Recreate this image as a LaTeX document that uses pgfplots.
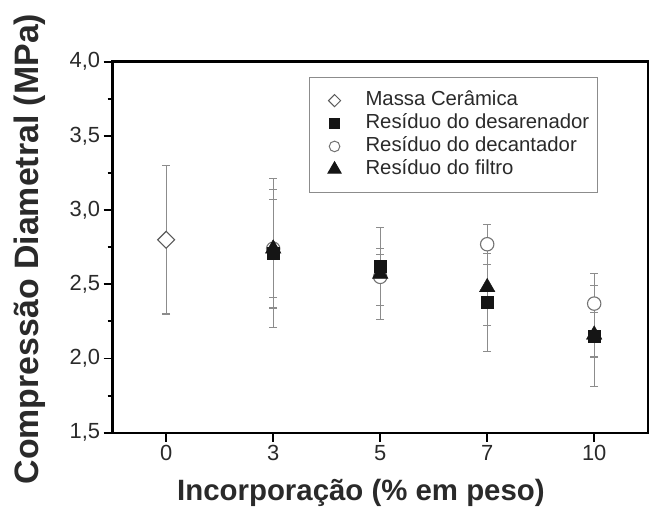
\documentclass[border=0pt]{standalone}
\usepackage{pgfplots}
\pgfplotsset{compat=1.18}
\usepackage{pgfplotstable}
\usepackage{fontspec}
\setmainfont{Liberation Sans}
\definecolor{errgray}{HTML}{8C8C8C}
\definecolor{mkblack}{HTML}{151515}
\definecolor{txt}{HTML}{2A2A2A}

\pgfplotstableread{
x y e
0 2.80 0.50
}\massa
\pgfplotstableread{
x y e
1 2.71 0.50
2 2.62 0.08
3 2.38 0.33
4 2.15 0.34
}\desar
\pgfplotstableread{
x y e
1 2.74 0.33
2 2.55 0.19
3 2.77 0.135
4 2.37 0.20
}\decant
\pgfplotstableread{
x y e
1 2.74 0.40
2 2.57 0.31
3 2.48 0.26
4 2.16 0.15
}\filtro

\begin{document}
\begin{tikzpicture}
\path[use as bounding box] (-112.7bp,-85.3bp) rectangle (540.3bp,432.7bp);
\begin{axis}[
  scale only axis, width=535bp, height=371bp,
  at={(0,0)}, anchor=south west,
  xmin=-0.5, xmax=4.5, ymin=1.5, ymax=4,
  axis line style={line width=2.4bp, black},
  xtick={0,1,2,3,4}, xticklabels={0,3,5,7,10},
  ytick={1.5,2,2.5,3,3.5,4},
  minor y tick num=1,
  tick align=outside, xtick pos=bottom, ytick pos=left,
  major tick length=9bp, minor tick length=5bp,
  every tick/.style={line width=1.8bp, black},
  ticklabel style={font=\fontsize{22}{26}\selectfont, text=txt},
  yticklabel style={/pgf/number format/.cd, fixed, fixed zerofill, precision=1, use comma, assume math mode=true},
  xlabel={Incorporação (\% em peso)},
  ylabel={Compressão Diametral (MPa)},
  xlabel style={font=\bfseries\fontsize{29.5}{34}\selectfont, text=txt, at={(axis description cs:0.464,-0.1625)}, anchor=center},
  ylabel style={font=\bfseries\fontsize{34}{38}\selectfont, text=txt, at={(axis description cs:-0.1546,0.495)}, anchor=center},
  legend style={at={(axis description cs:0.367,0.9588)}, anchor=north west, draw=errgray, line width=1bp,
     font=\fontsize{20.4}{22}\selectfont, text=txt, inner xsep=6bp, inner ysep=13bp, row sep=2.6bp,
     nodes={inner ysep=1bp, text height=14bp, text depth=4.3bp}},
  legend image code/.code={\path[draw=none, fill=none] (0bp,0bp) -- (48bp,0bp); \draw[#1] plot coordinates {(19bp,0bp)};},
  legend cell align=left,
  clip=false,
]
% legend entries
\addlegendimage{only marks, mark=square*, mark size=4.3bp, mark options={rotate=45, fill=white, draw=black!65, line width=1bp}}
\addlegendentry{Massa Cerâmica}
\addlegendimage{only marks, mark=square*, mark size=4.8bp, mark options={fill=mkblack, draw=mkblack}}
\addlegendentry{Resíduo do desarenador}
\addlegendimage{only marks, mark=*, mark size=5.3bp, mark options={fill=white, draw=black!55, line width=1bp}}
\addlegendentry{Resíduo do decantador}
\addlegendimage{only marks, mark=triangle*, mark size=7.5bp, mark options={fill=mkblack, draw=mkblack}}
\addlegendentry{Resíduo do filtro}

% error bars
\pgfplotsset{errstyle/.style={forget plot, only marks, mark=none, draw=none,
   error bars/.cd, y dir=both, y explicit,
   error bar style={line width=1.1bp, errgray},
   error mark options={rotate=90, mark size=4bp, line width=1.1bp, errgray}}}
\addplot[errstyle] table[x=x, y=y, y error=e] {\massa};
\addplot[errstyle] table[x=x, y=y, y error=e] {\desar};
\addplot[errstyle] table[x=x, y=y, y error=e] {\decant};
\addplot[errstyle] table[x=x, y=y, y error=e] {\filtro};

% markers
\addplot[forget plot, only marks, mark=square*, mark size=6bp, mark options={rotate=45, fill=white, draw=black!65, line width=1.1bp}] table[x=x, y=y] {\massa};
\addplot[forget plot, only marks, mark=*, mark size=6.7bp, mark options={fill=white, draw=black!55, line width=1.1bp}] table[x=x, y=y] {\decant};
\addplot[forget plot, only marks, mark=square*, mark size=6bp, mark options={fill=mkblack, draw=mkblack}] table[x=x, y=y] {\desar};
\addplot[forget plot, only marks, mark=triangle*, mark size=9bp, mark options={fill=mkblack, draw=mkblack}] table[x=x, y=y] {\filtro};
\end{axis}
\end{tikzpicture}
\end{document}
